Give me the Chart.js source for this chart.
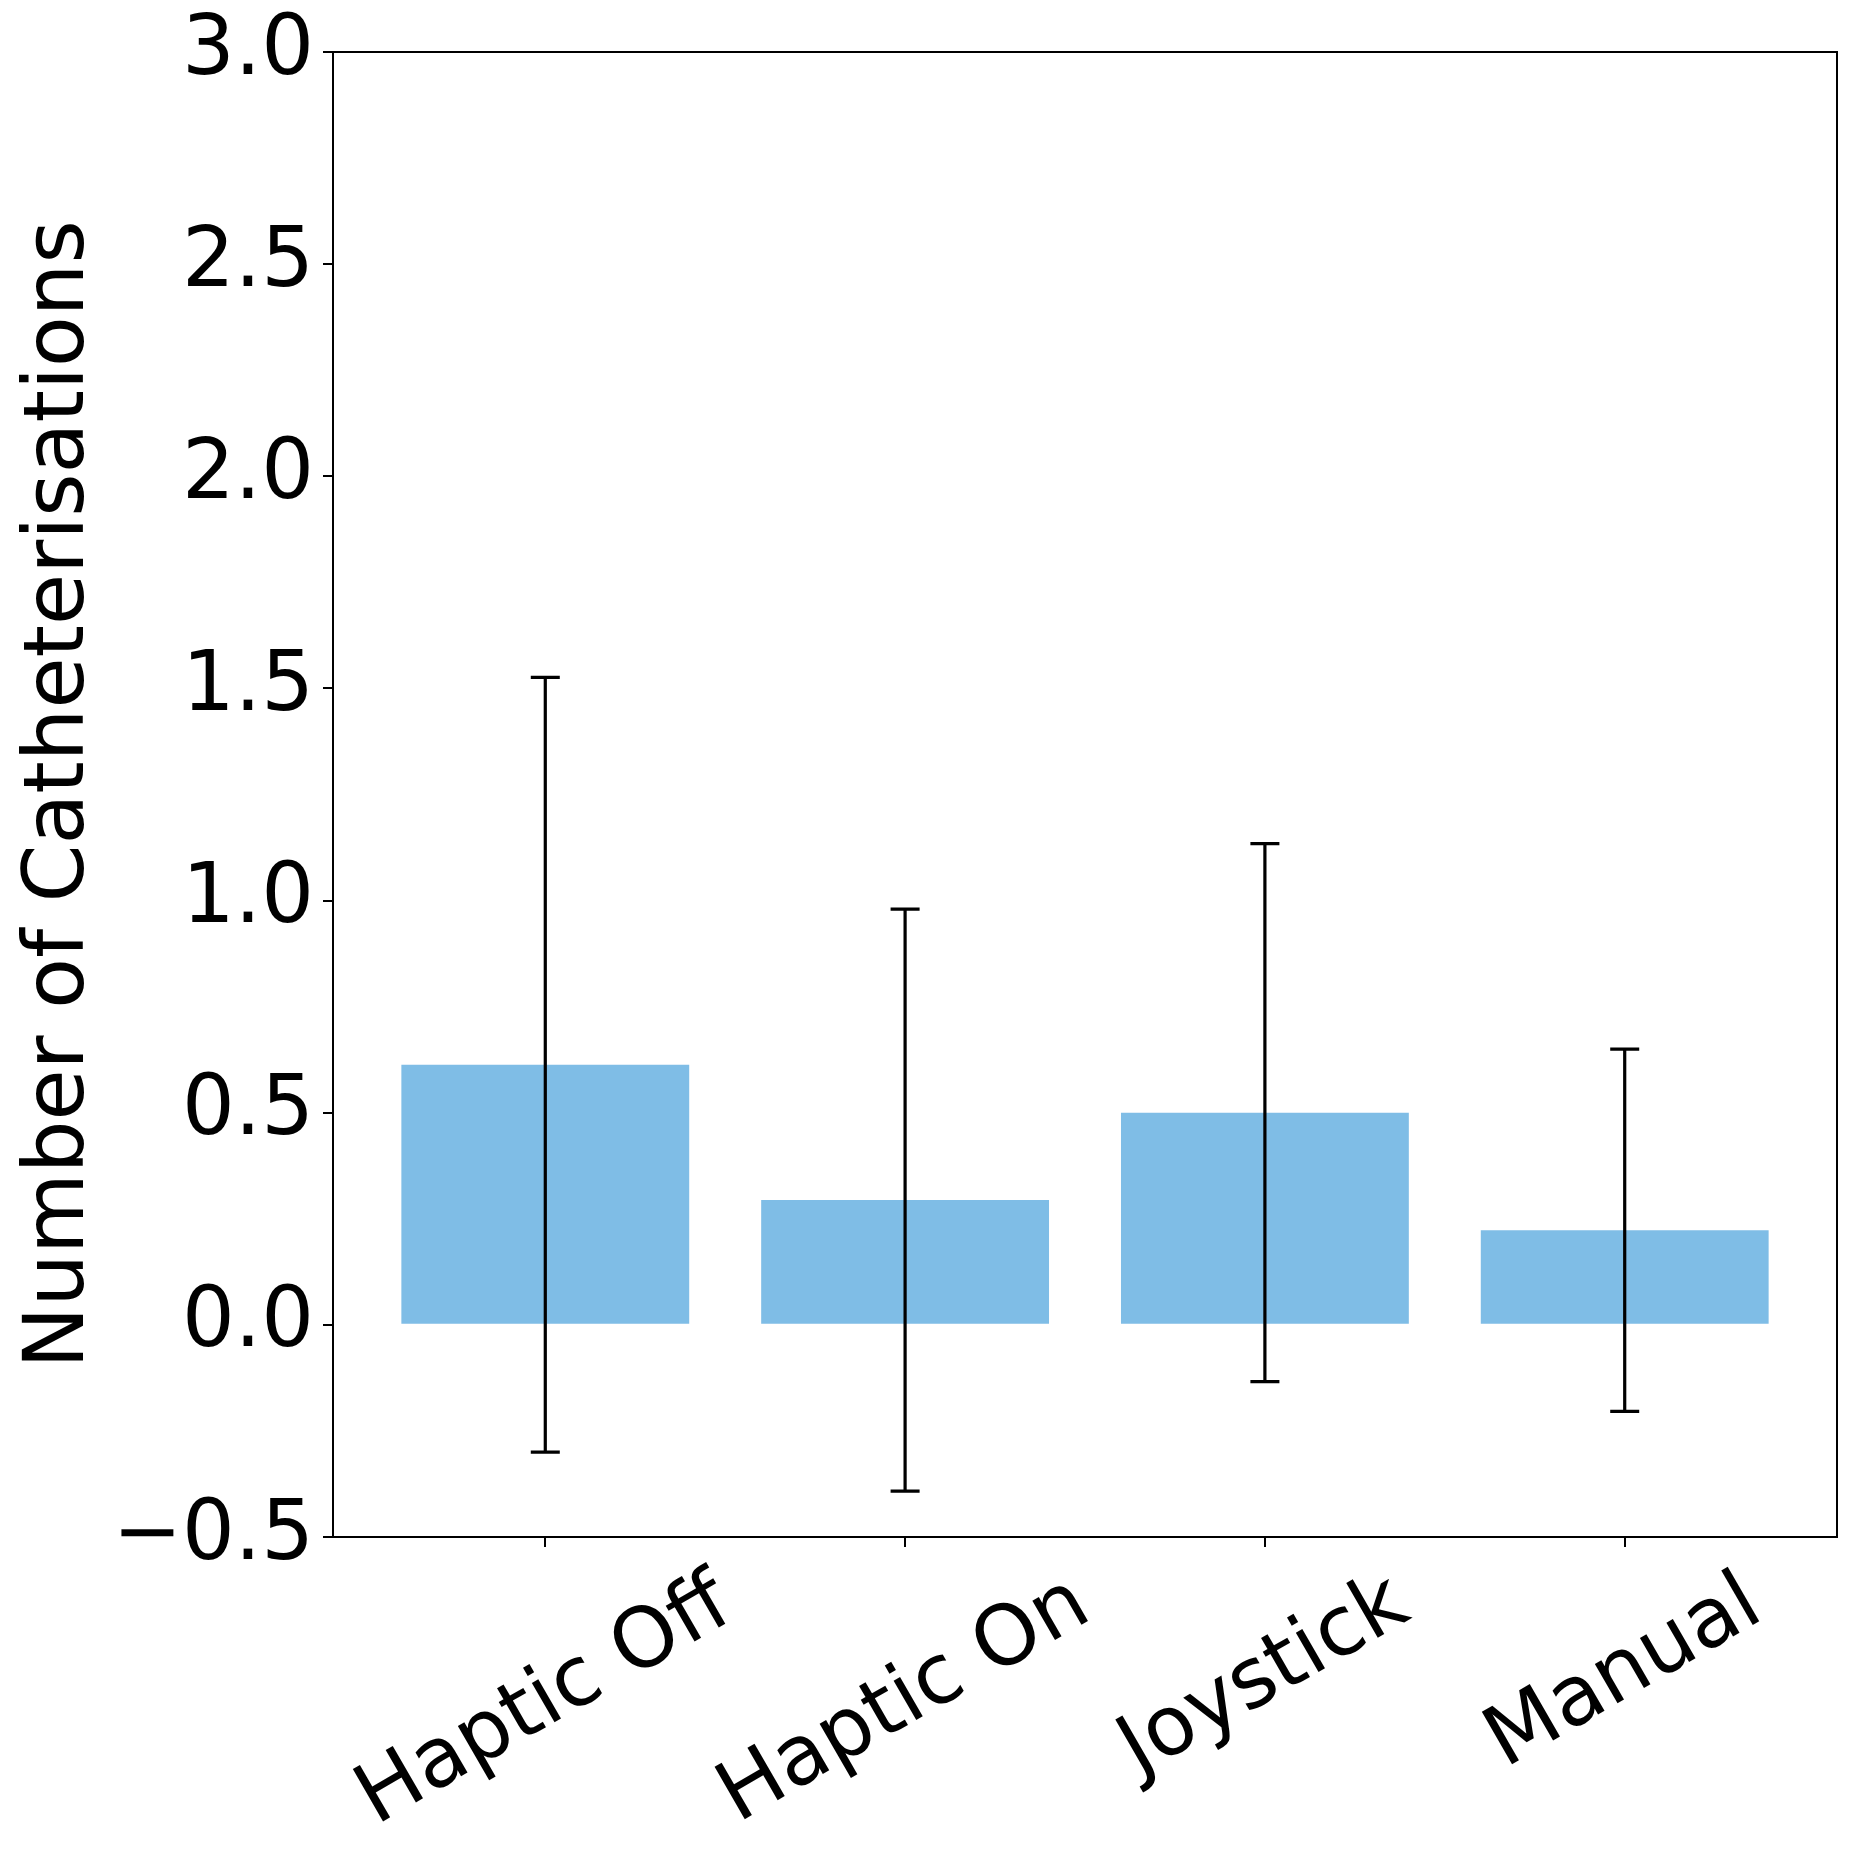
<!DOCTYPE html>
<html>
<head>
<meta charset="utf-8">
<script src="https://cdn.jsdelivr.net/npm/chart.js@4/dist/chart.umd.min.js"></script>
<style>
  html, body { margin: 0; padding: 0; background: #ffffff; }
  #wrap { width: 1857px; height: 1856px; }
</style>
</head>
<body>
<div id="wrap"><canvas id="c" width="1857" height="1856"></canvas></div>
<script>
const categories = ['Haptic Off', 'Haptic On', 'Joystick', 'Manual'];
const means = [0.613, 0.294, 0.500, 0.223];
const errors = [0.913, 0.686, 0.634, 0.427];
const yTicks = [-0.5, 0.0, 0.5, 1.0, 1.5, 2.0, 2.5, 3.0];
const yTitle = 'Number of Catheterisations';

const FONT = '"DejaVu Sans", "Liberation Sans", sans-serif';
const FS = 83;

const errorBarPlugin = {
  id: 'errorBars',
  afterDatasetsDraw(chart) {
    const ctx = chart.ctx, xs = chart.scales.x, ys = chart.scales.y;
    ctx.save();
    ctx.strokeStyle = '#000';
    ctx.lineWidth = 3.2;
    ctx.lineCap = 'butt';
    means.forEach((m, i) => {
      const x = xs.getPixelForValue(i);
      const yt = ys.getPixelForValue(m + errors[i]);
      const yb = ys.getPixelForValue(m - errors[i]);
      ctx.beginPath();
      ctx.moveTo(x, yt); ctx.lineTo(x, yb);
      ctx.moveTo(x - 14.5, yt); ctx.lineTo(x + 14.5, yt);
      ctx.moveTo(x - 14.5, yb); ctx.lineTo(x + 14.5, yb);
      ctx.stroke();
    });
    ctx.restore();
  }
};

const framePlugin = {
  id: 'frame',
  afterDraw(chart) {
    const ctx = chart.ctx, a = chart.chartArea, xs = chart.scales.x;
    ctx.save();
    ctx.strokeStyle = '#000';
    ctx.lineWidth = 2;
    ctx.beginPath();
    ctx.moveTo(a.left, a.top); ctx.lineTo(a.right, a.top); ctx.lineTo(a.right, a.bottom);
    ctx.stroke();
    // rotated category labels centred on their ticks
    ctx.font = FS + 'px ' + FONT;
    ctx.fillStyle = '#000';
    ctx.textAlign = 'center';
    ctx.textBaseline = 'middle';
    const ang = 30 * Math.PI / 180;
    const top = a.bottom + 10 + 10;
    categories.forEach((c, i) => {
      const w = ctx.measureText(c).width;
      const h = FS * 1.164;
      const bh = w * Math.sin(ang) + h * Math.cos(ang);
      const cx = xs.getPixelForValue(i);
      const cy = top + bh / 2;
      ctx.setTransform(1, 0, 0, 1, 0, 0);
      ctx.translate(cx, cy);
      ctx.rotate(-ang);
      ctx.fillText(c, 0, 0);
    });
    ctx.setTransform(1, 0, 0, 1, 0, 0);
    ctx.restore();
  }
};

new Chart(document.getElementById('c'), {
  type: 'bar',
  data: {
    datasets: [{
      data: means.map((m, i) => ({ x: i, y: m })),
      backgroundColor: '#7fbde6',
      borderWidth: 0,
      categoryPercentage: 0.8,
      barPercentage: 1.0
    }]
  },
  options: {
    responsive: false,
    animation: false,
    devicePixelRatio: 1,
    layout: { padding: { top: 52, right: 20, left: 0, bottom: 0 } },
    plugins: { legend: { display: false }, tooltip: { enabled: false } },
    scales: {
      x: {
        type: 'linear',
        offset: false,
        min: -0.59,
        max: 3.59,
        afterBuildTicks(scale) { scale.ticks = categories.map((c, i) => ({ value: i })); },
        afterFit(scale) { scale.height = 1856 - 1537; scale.paddingLeft = 0; scale.paddingRight = 0; },
        ticks: { display: false },
        grid: { offset: false, drawOnChartArea: false, drawTicks: true, tickLength: 10, color: '#000', lineWidth: 2 },
        border: { display: true, color: '#000', width: 2 }
      },
      y: {
        type: 'linear',
        min: -0.5,
        max: 3.0,
        afterBuildTicks(scale) { scale.ticks = yTicks.map(v => ({ value: v })); },
        afterFit(scale) { scale.width = 333; scale.paddingTop = 0; scale.paddingBottom = 0; },
        ticks: {
          color: '#000',
          padding: 9,
          font: { family: FONT, size: FS },
          callback: (v) => (v < 0 ? '\u2212' : '') + Math.abs(v).toFixed(1)
        },
        grid: { drawOnChartArea: false, drawTicks: true, tickLength: 10, color: '#000', lineWidth: 2 },
        border: { display: true, color: '#000', width: 2 },
        title: {
          display: true,
          text: yTitle,
          color: '#000',
          font: { family: FONT, size: FS },
          padding: { top: 12, bottom: 0 }
        }
      }
    }
  },
  plugins: [errorBarPlugin, framePlugin]
});
</script>
</body>
</html>
